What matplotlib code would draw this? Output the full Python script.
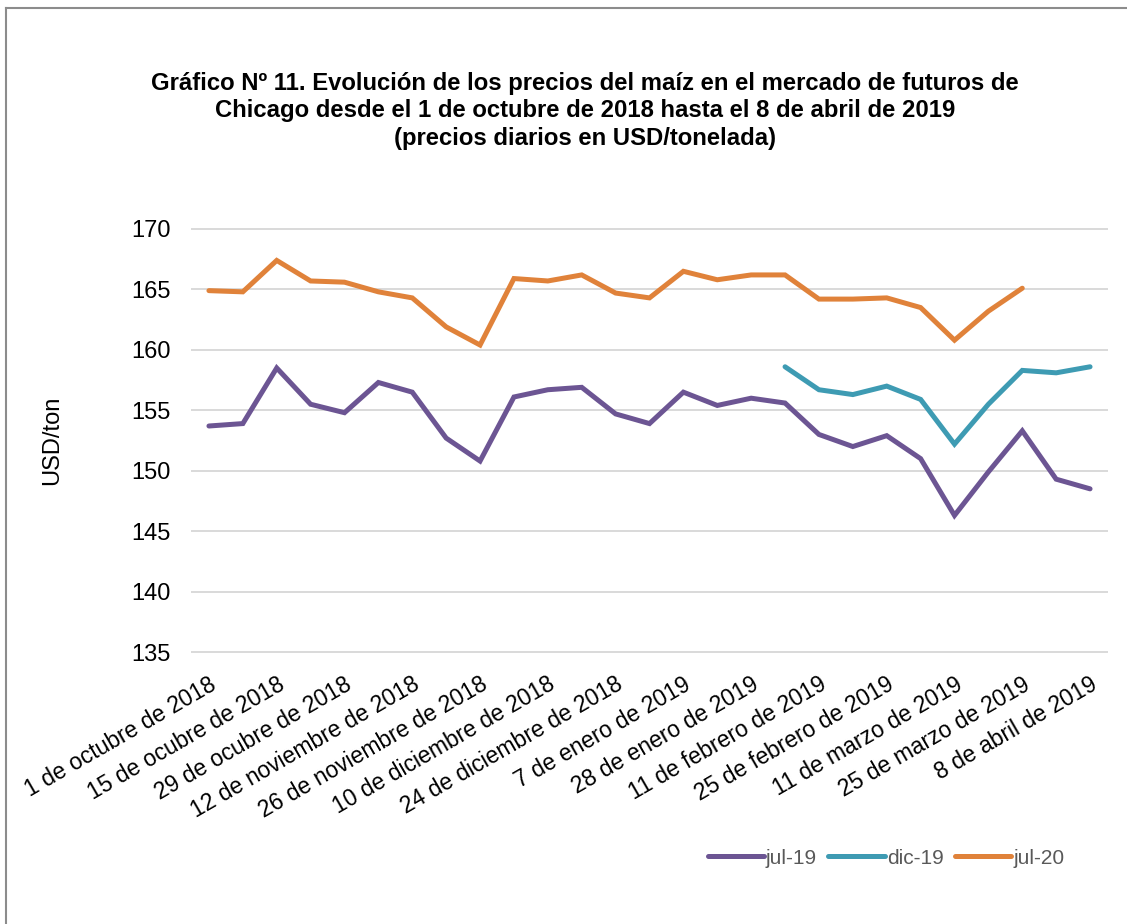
import matplotlib
matplotlib.use("Agg")
import matplotlib.pyplot as plt
import numpy as np

plt.rcParams["font.family"] = ["Liberation Sans", "DejaVu Sans"]

# weekly categories (27 points), labels shown every other week
fechas = [
    "1 de octubre de 2018", "", "15 de ocubre de 2018", "", "29 de ocubre de 2018", "",
    "12 de noviembre de 2018", "", "26 de noviembre de 2018", "", "10 de diciembre de 2018", "",
    "24 de diciembre de 2018", "", "7 de enero de 2019", "", "28 de enero de 2019", "",
    "11 de febrero de 2019", "", "25 de febrero de 2019", "", "11 de marzo de 2019", "",
    "25 de marzo de 2019", "", "8 de abril de 2019",
]

jul19 = [153.7, 153.9, 158.5, 155.5, 154.8, 157.3, 156.5, 152.7, 150.8, 156.1,
         156.7, 156.9, 154.7, 153.9, 156.5, 155.4, 156.0, 155.6, 153.0, 152.0,
         152.9, 151.0, 146.3, 149.9, 153.3, 149.3, 148.5]
dic19 = [np.nan] * 17 + [158.6, 156.7, 156.3, 157.0, 155.9, 152.2, 155.5, 158.3, 158.1, 158.6]
jul20 = [164.9, 164.8, 167.4, 165.7, 165.6, 164.8, 164.3, 161.9, 160.4, 165.9,
         165.7, 166.2, 164.7, 164.3, 166.5, 165.8, 166.2, 166.2, 164.2, 164.2,
         164.3, 163.5, 160.8, 163.2, 165.1, np.nan, np.nan]

series = [("jul-19", jul19, "#6c5593"), ("dic-19", dic19, "#3e9bb3"), ("jul-20", jul20, "#e0823a")]

fig = plt.figure(figsize=(11.27, 9.24), dpi=100)
ax = fig.add_axes([192 / 1127, 1 - 652 / 924, (1107 - 192) / 1127, (652 - 229) / 924])

x = np.arange(len(fechas))
for name, vals, color in series:
    ax.plot(x, vals, color=color, lw=3.6, solid_capstyle="round", solid_joinstyle="miter", label=name, zorder=3)

yticks = np.arange(135, 171, 5)
for yt in yticks:
    ax.axhline(yt, color="#d9d9d9", lw=1.4, zorder=0, clip_on=False)

ax.set_xlim(-0.5, len(fechas) - 0.5)
ax.set_ylim(135, 170)
ax.set_yticks(yticks)
ax.set_xticks(x)
ax.set_xticklabels(fechas, rotation=30, ha="right", va="top", rotation_mode="anchor", fontsize=16.5)
ax.tick_params(axis="both", length=0)
ax.tick_params(axis="y", pad=15.5, labelsize=17)
ax.tick_params(axis="x", pad=15)

for s in ax.spines.values():
    s.set_visible(False)

ax.set_ylabel("USD/ton", fontsize=17)
ax.yaxis.set_label_coords(-0.141, 0.5)

fig.text(585 / 1127, 1 - 111 / 924,
         "Gráfico Nº 11. Evolución de los precios del maíz en el mercado de futuros de\n"
         "Chicago desde el 1 de octubre de 2018 hasta el 8 de abril de 2019\n"
         "(precios diarios en USD/tonelada)",
         ha="center", va="center", fontsize=17.2, fontweight="bold", linespacing=1.25)

leg = fig.legend(loc="center", bbox_to_anchor=(886 / 1127, 1 - 858 / 924), ncol=3, frameon=False,
                 fontsize=15, handlelength=2.7, handletextpad=0.1, columnspacing=0.55)
for t in leg.get_texts():
    t.set_color("#595959")

# outer border (cut at right and bottom as in the source)
fig.add_artist(plt.Line2D([6 / 1127, 6 / 1127], [0, 1 - 8 / 924], color="#8c8c8c", lw=1.5))
fig.add_artist(plt.Line2D([6 / 1127, 1], [1 - 8 / 924, 1 - 8 / 924], color="#8c8c8c", lw=1.5))

fig.savefig("out.png", dpi=100)
